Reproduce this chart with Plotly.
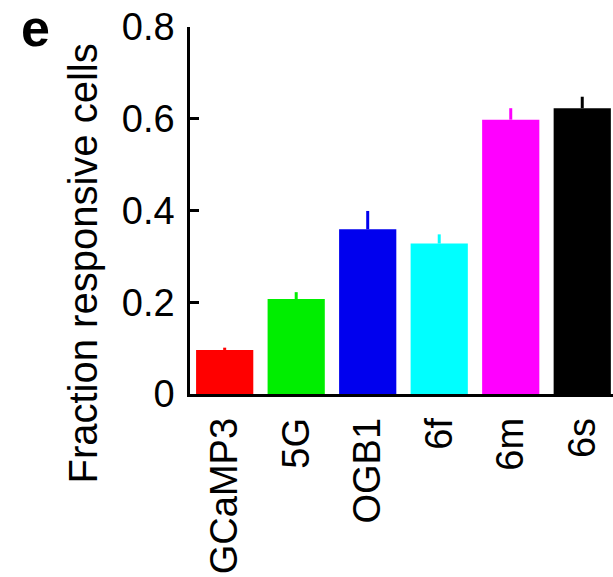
import plotly.graph_objects as go

categories = ["GCaMP3", "5G", "OGB1", "6f", "6m", "6s"]
fraction = [0.096, 0.207, 0.359, 0.328, 0.598, 0.623]
sem = [0.005, 0.015, 0.04, 0.02, 0.025, 0.025]
colors = ["#ff0000", "#00ee00", "#0000ee", "#00ffff", "#ff00ff", "#000000"]
yticks = [0, 0.2, 0.4, 0.6, 0.8]
yticklabels = ["0", "0.2", "0.4", "0.6", "0.8"]

FONT = "Liberation Sans, Arial, sans-serif"

fig = go.Figure()
for c, v, e, col in zip(categories, fraction, sem, colors):
    fig.add_trace(go.Bar(
        x=[c], y=[v], marker=dict(color=col, line=dict(width=0)),
        error_y=dict(type="data", array=[e], arrayminus=[0], symmetric=False,
                     color=col, thickness=3, width=0),
        showlegend=False,
    ))

fig.update_layout(
    width=613, height=577,
    margin=dict(l=190, r=0, t=27, b=183),
    paper_bgcolor="white", plot_bgcolor="white",
    bargap=0.2, barmode="overlay",
    font=dict(family=FONT, color="black"),
    xaxis=dict(
        type="category", categoryorder="array", categoryarray=categories,
        range=[-0.485, 5.43], showline=True, linecolor="black", linewidth=2.5,
        ticks="", tickangle=-90, tickfont=dict(size=38, family=FONT),
        ticklabelstandoff=6, showgrid=False, zeroline=False, automargin=False,
    ),
    yaxis=dict(
        range=[0, 0.8], tickvals=yticks, ticktext=yticklabels,
        showline=True, linecolor="black", linewidth=2.5,
        ticks="inside", ticklen=9, tickwidth=2.5, tickcolor="black",
        tickfont=dict(size=38, family=FONT), ticklabelstandoff=5,
        showgrid=False, zeroline=False, automargin=False,
    ),
    annotations=[
        dict(text="Fraction responsive cells", textangle=-90, xref="paper", yref="paper",
             x=0, y=0.5, xshift=-108, yshift=-53, xanchor="center", yanchor="middle",
             showarrow=False, font=dict(size=40, family=FONT)),
        dict(text="<b>e</b>", xref="paper", yref="paper", x=0, y=1,
             xshift=-155, yshift=30, xanchor="center", yanchor="top",
             showarrow=False, font=dict(size=52, family=FONT)),
    ],
)

fig.write_html("out.html",
               config={"displayModeBar": False},
               post_script="document.body.style.margin='0';document.body.style.overflow='hidden';")
